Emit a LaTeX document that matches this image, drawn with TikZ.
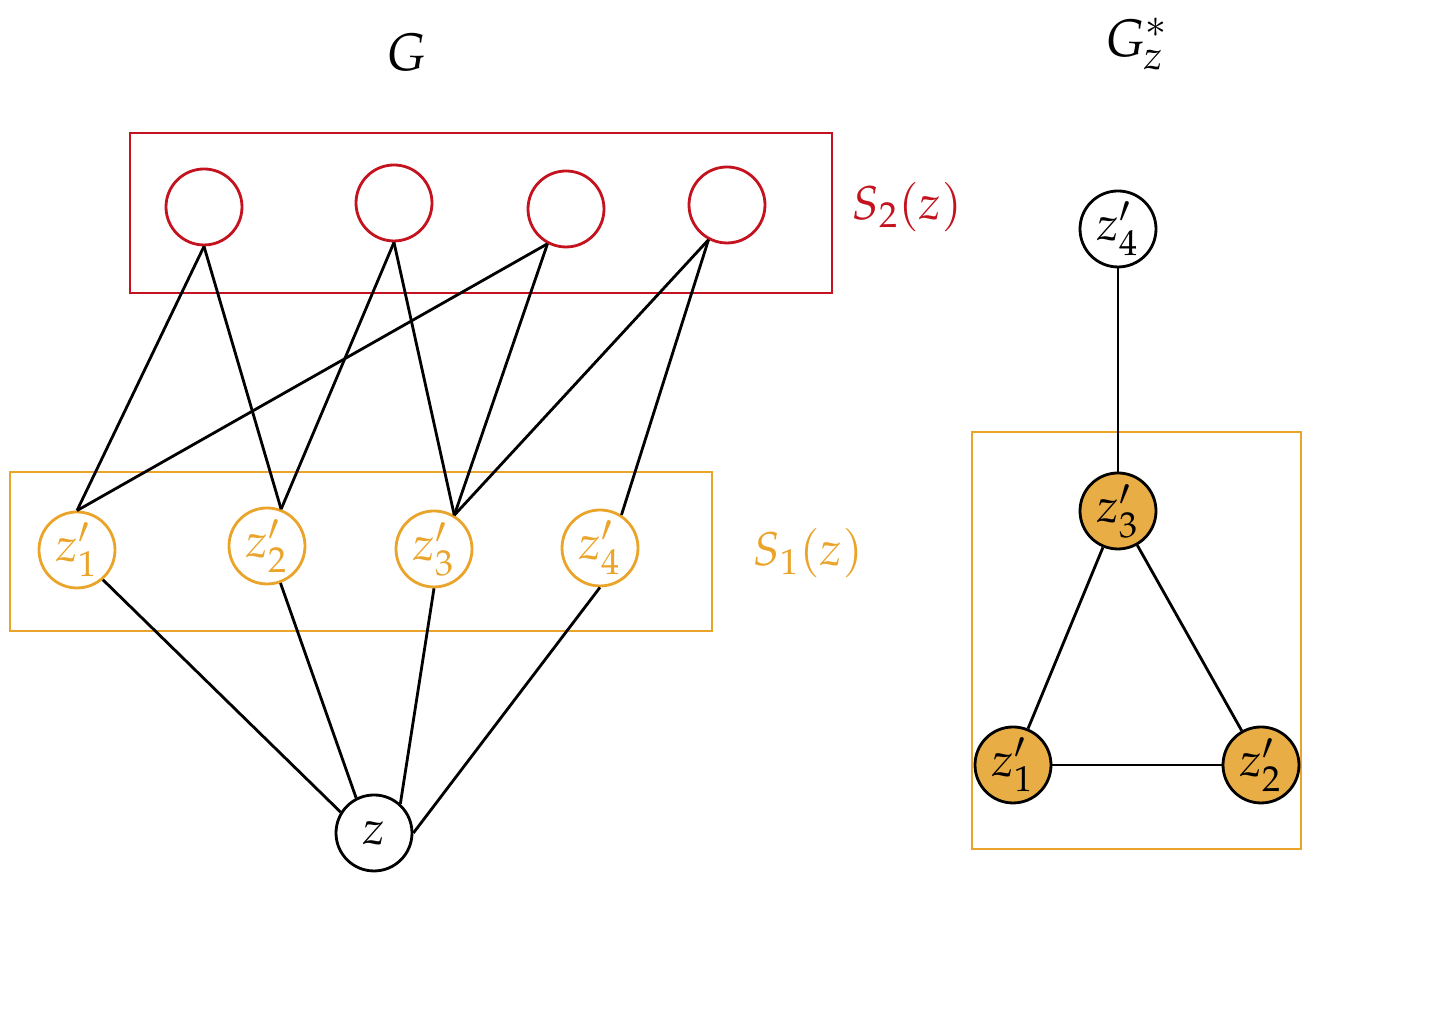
\documentclass[tikz,border=0pt]{standalone}
\usepackage{mathpazo}
\usepackage{tikz}
\usetikzlibrary{positioning}

\definecolor{setred}{RGB}{196,18,30}
\definecolor{setorange}{RGB}{234,164,42}
\definecolor{fillorange}{RGB}{233,173,70}

\tikzset{
  vert/.style={circle, draw, thick, minimum size=0.76cm, inner sep=0pt},
  redvert/.style={vert, draw=setred},
  orangevert/.style={vert, draw=setorange, text=setorange},
  fullvert/.style={vert, fill=fillorange},
  edge/.style={thick},
  title/.style={font=\fontsize{15}{18}\selectfont, inner sep=1pt}
}

\begin{document}
\begin{tikzpicture}[font=\fontsize{13.5}{16}\selectfont]
  \useasboundingbox (0,0) rectangle (14.4,10.26);

  % Titles
  \node[title] (title1) at (4.07,9.74) {$G$};
  \node[title] (title2) at (11.37,9.82) {$G^{*}_{z}$};

  % Draw the boxes
  \draw[setred, thick] (1.30,7.33) rectangle (8.32,8.93);
  \node[text=setred] (lab2) at (9.07,8.19) {$S_2(z)$};
  \draw[setorange, thick] (0.10,3.95) rectangle (7.12,5.54);
  \node[text=setorange] (lab1) at (8.08,4.73) {$S_1(z)$};

  % Second neighbours
  \node[redvert] (r1) at (2.04,8.19) {};
  \node[redvert] (r2) at (3.94,8.23) {};
  \node[redvert] (r3) at (5.66,8.17) {};
  \node[redvert] (r4) at (7.27,8.21) {};

  % First neighbours
  \node[orangevert] (a1) at (0.77,4.76) {$z'_1$};
  \node[orangevert] (a2) at (2.67,4.80) {$z'_2$};
  \node[orangevert] (a3) at (4.34,4.77) {$z'_3$};
  \node[orangevert] (a4) at (6.00,4.78) {$z'_4$};

  % The vertex z
  \node[vert] (z) at (3.74,1.93) {$z$};

  % Edges between S_2(z) and S_1(z)
  \draw[edge] (r1.south) -- (a1.north);
  \draw[edge] (r1.south) -- (a2.69);
  \draw[edge] (r2.south) -- (a2.69);
  \draw[edge] (r2.south) -- (a3.59);
  \draw[edge] (r3.-118) -- (a1.north);
  \draw[edge] (r3.-118) -- (a3.59);
  \draw[edge] (r4.-118) -- (a3.59);
  \draw[edge] (r4.-118) -- (a4.57);

  % Edges between S_1(z) and z
  \draw[edge] (a1.-49) -- (z.148);
  \draw[edge] (a2.-70) -- (z.117);
  \draw[edge] (a3.south) -- (z.48);
  \draw[edge] (a4.south) -- (z.east);

  % The graph G*_z
  \draw[setorange, thick] (9.72,1.77) rectangle (13.01,5.94);
  \node[vert] (b4) at (11.18,7.97) {$z'_4$};
  \node[fullvert] (b3) at (11.18,5.15) {$z'_3$};
  \node[fullvert] (b1) at (10.13,2.61) {$z'_1$};
  \node[fullvert] (b2) at (12.61,2.61) {$z'_2$};

  \draw[edge] (b4) -- (b3);
  \draw[edge] (b3) -- (b1);
  \draw[edge] (b3) -- (b2);
  \draw[edge] (b1) -- (b2);
\end{tikzpicture}
\end{document}
